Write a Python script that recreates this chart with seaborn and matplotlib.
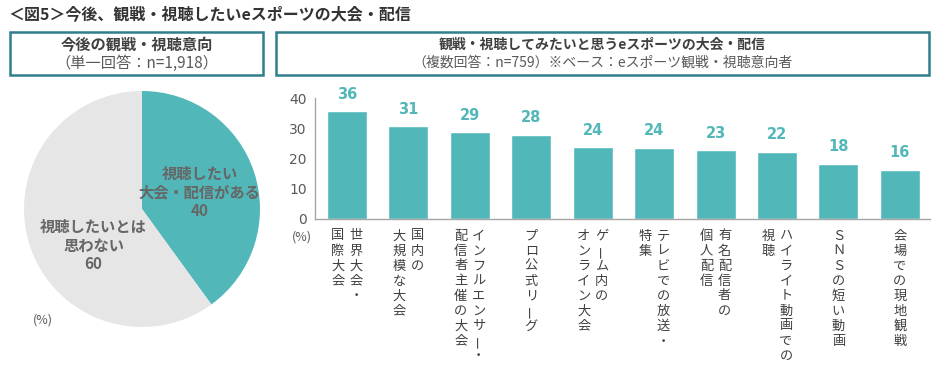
import matplotlib
matplotlib.use('Agg')
import matplotlib.pyplot as plt
import seaborn as sns
import pandas as pd
from matplotlib.patches import Rectangle

sns.set_theme(style='white')
plt.rcParams['font.family'] = ['Noto Sans CJK JP', 'DejaVu Sans']

# data
pie_labels = ['視聴したい\n大会・配信がある', '視聴したいとは\n思わない']
pie_values = [40, 60]

bar_cats = ['世界大会・国際大会', '国内の大規模な大会', 'インフルエンサー・配信者主催の大会',
            'プロ公式リーグ', 'ゲーム内のオンライン大会', 'テレビでの放送・特集',
            '有名配信者の個人配信', 'ハイライト動画での視聴', 'ＳＮＳの短い動画', '会場での現地観戦']
bar_values = [35.6, 30.6, 28.6, 27.8, 23.7, 23.6, 22.7, 22.3, 18.2, 16.2]
# vertical label columns (right column first)
bar_cols = [['世界大会・', '国際大会'], ['国内の', '大規模な大会'],
            ['インフルエンサー・', '配信者主催の大会'], ['プロ公式リーグ'],
            ['ゲーム内の', 'オンライン大会'], ['テレビでの放送・', '特集'],
            ['有名配信者の', '個人配信'], ['ハイライト動画での', '視聴'],
            ['ＳＮＳの短い動画'], ['会場での現地観戦']]

TEAL = '#52B7B9'
GREY = '#E6E6E6'
TXT = '#595959'
BORDER = '#2F7F8C'

W, H = 934, 365
fig = plt.figure(figsize=(W / 100, H / 100), dpi=100)

def fx(px):
    return px / W

def fy(py):
    return 1 - py / H

# title
fig.text(fx(8), fy(14), '＜図5＞今後、観戦・視聴したいeスポーツの大会・配信',
         fontsize=11.5, fontweight='bold', color='#333333', va='center', ha='left')

# header boxes
for x0, x1, t1, t2, fs in [(10, 263, '今後の観戦・視聴意向', '（単一回答：n=1,918）', 11),
                           (276, 929, '観戦・視聴してみたいと思うeスポーツの大会・配信',
                            '（複数回答：n=759）※ベース：eスポーツ観戦・視聴意向者', 10)]:
    fig.patches.append(Rectangle((fx(x0), fy(75)), fx(x1 - x0), (75 - 32) / H,
                                 transform=fig.transFigure, fill=False,
                                 edgecolor=BORDER, linewidth=1.8))
    cx = (x0 + x1) / 2
    fig.text(fx(cx), fy(45), t1, fontsize=fs, fontweight='bold', color='#404040',
             ha='center', va='center')
    fig.text(fx(cx), fy(63), t2, fontsize=fs, color=TXT, ha='center', va='center')

# pie
pcx, pcy, r = 142, 209, 118
axp = fig.add_axes([fx(pcx - r), fy(pcy + r), 2 * r / W, 2 * r / H])
axp.pie(pie_values, colors=[TEAL, GREY], startangle=90, counterclock=False,
        wedgeprops=dict(linewidth=0))
axp.set_xlim(-1, 1)
axp.set_ylim(-1, 1)
axp.set_aspect('equal')
axp.text(0.49, 0.14, pie_labels[0] + '\n' + str(pie_values[0]), ha='center', va='center',
         fontsize=11, fontweight='bold', color='#666666', linespacing=1.2)
axp.text(-0.41, -0.31, pie_labels[1] + '\n' + str(pie_values[1]), ha='center', va='center',
         fontsize=11, fontweight='bold', color='#666666', linespacing=1.2)
fig.text(fx(43), fy(320), '(%)', fontsize=9, color=TXT, ha='center', va='center')

# bars
ax = fig.add_axes([fx(315), fy(219), fx(930 - 315), (219 - 98) / H])
df = pd.DataFrame({'cat': bar_cats, 'val': bar_values})
sns.barplot(data=df, x='cat', y='val', color=TEAL, saturation=1, width=0.65, ax=ax)
ax.set_xlim(-0.52, 9.49)
ax.set_ylim(0, 40)
ax.set_yticks([0, 10, 20, 30, 40])
ax.tick_params(axis='y', labelsize=10, labelcolor=TXT, length=0, pad=6)
ax.set_xticks([])
ax.set_xlabel('')
ax.set_ylabel('')
for s in ['top', 'right']:
    ax.spines[s].set_visible(False)
for s in ['left', 'bottom']:
    ax.spines[s].set_color('#A6A6A6')
    ax.spines[s].set_linewidth(1)
for lab in ax.get_yticklabels():
    lab.set_family(['DejaVu Sans'])

for i, v in enumerate(bar_values):
    ax.annotate(f'{round(v)}', xy=(i, v), xytext=(0, 7), textcoords='offset points',
                ha='center', va='bottom', fontsize=10.5, fontweight='bold', color=TEAL,
                family=['DejaVu Sans'], annotation_clip=False)

step = 15 * 0.72
for i, cols in enumerate(bar_cols):
    n = len(cols)
    offs = [0] if n == 1 else [6.5, -6.5]
    for col, dx in zip(cols, offs):
        for k, ch in enumerate(col):
            rot = 90 if ch == 'ー' else 0
            ax.annotate(ch, xy=(i, 0), xytext=(dx, -(17 * 0.72) - k * step),
                        textcoords='offset points', ha='center', va='center',
                        fontsize=9.5, color='#404040', rotation=rot,
                        annotation_clip=False)

fig.text(fx(302), fy(237), '(%)', fontsize=9, color=TXT, ha='center', va='center')

fig.savefig('out.png', dpi=100)
